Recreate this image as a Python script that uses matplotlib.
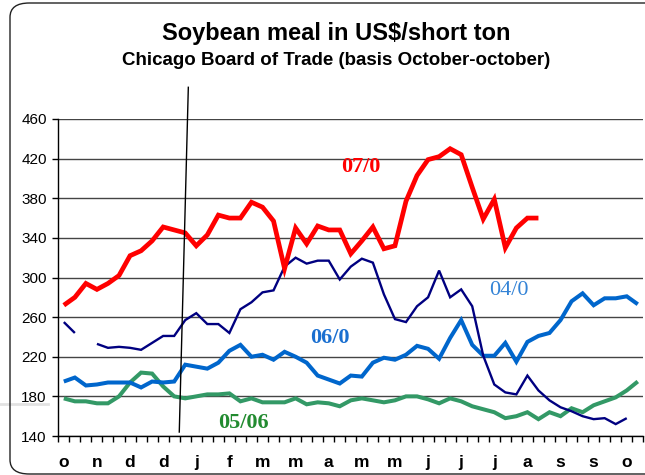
import numpy as np
import matplotlib.pyplot as plt
from matplotlib.patches import FancyBboxPatch
from matplotlib.lines import Line2D

# weekly prices, October to October (53 weeks)
red_0708 = [272, 280, 294, 288, 294, 302, 322, 327, 337, 351, 348, 345, 332, 343,
            363, 360, 360, 376, 371, 357, 309, 350, 334, 352, 348, 348, 324, 337,
            351, 329, 332, 377, 403, 419, 422, 430, 424, 391, 359, 379, 330, 350,
            360, 360] + [None] * 9
navy_line = [255, 244, None, 233, 229, 230, 229, 227, 234, 241, 241, 257, 264, 253,
             253, 244, 268, 275, 285, 287, 311, 320, 314, 317, 317, 298, 311, 319,
             315, 283, 258, 255, 271, 280, 307, 280, 288, 271, 221, 192, 184, 182,
             201, 186, 176, 169, 165, 160, 157, 158, 152, 158, None]
blue_line = [195, 199, 191, 192, 194, 194, 194, 189, 195, 194, 195, 212, 210, 208,
             214, 226, 232, 220, 222, 217, 225, 220, 214, 201, 197, 193, 201, 200,
             214, 219, 217, 222, 231, 228, 218, 239, 257, 232, 221, 221, 234, 215,
             235, 241, 244, 257, 276, 284, 272, 279, 279, 281, 273]
green_0506 = [178, 175, 175, 173, 173, 180, 194, 204, 203, 190, 180, 178, 180, 182,
              182, 183, 175, 178, 174, 174, 174, 178, 172, 174, 173, 170, 176, 178,
              176, 174, 176, 180, 180, 177, 173, 178, 175, 170, 167, 164, 158, 160,
              164, 157, 164, 160, 168, 164, 171, 175, 179, 186, 195]
month_labels = ['o', 'n', 'd', 'd', 'j', 'f', 'm', 'm', 'a', 'm', 'm', 'j', 'j', 'j',
                'a', 's', 's', 'o']

plt.rcParams['font.family'] = ['Liberation Sans', 'DejaVu Sans']

fig = plt.figure(figsize=(6.45, 4.75), dpi=100)

# chart frame with rounded corners
fig.patches.append(FancyBboxPatch((10 / 645, 1 - 474 / 475), 660 / 645, 471 / 475,
                                  boxstyle="round,pad=0,rounding_size=0.03",
                                  transform=fig.transFigure, fc='none', ec='#222222',
                                  lw=1.0, zorder=0))
fig.lines.append(Line2D([0, 48 / 645], [1 - 404 / 475] * 2, transform=fig.transFigure,
                        color='#e2e2e2', lw=2, zorder=-1))

ax = fig.add_axes([58.3 / 645, 1 - 436 / 475, 585 / 645, 317 / 475])

x = np.arange(len(blue_line))
series = [
    (green_0506, '#339966', 2.9),
    (blue_line, '#0066cc', 2.9),
    (navy_line, '#000080', 1.7),
    (red_0708, '#ff0000', 3.4),
]
for vals, col, lw in series:
    y = np.array([np.nan if v is None else v for v in vals], dtype=float)
    ax.plot(x, y, color=col, lw=lw, solid_joinstyle='miter', solid_capstyle='butt')

ax.set_xlim(-0.5, len(x) - 0.5)
ax.set_ylim(140, 460)
ax.set_yticks(range(140, 461, 40))
ax.yaxis.grid(True, color='#444444', lw=1)
ax.set_axisbelow(True)
ax.tick_params(axis='y', length=4.3, width=1, pad=4, labelsize=11)

ax.set_xticks(np.arange(-0.5, len(x), 1))
ax.set_xticklabels([])
ax.tick_params(axis='x', which='major', length=4, width=1, direction='out')
ax.set_xticks(np.arange(0, len(x), 3)[:len(month_labels)], month_labels, minor=True)
ax.tick_params(axis='x', which='minor', length=0, pad=14, labelsize=12.5)
for t in ax.get_xticklabels(minor=True):
    t.set_fontweight('bold')

for s in ['top', 'right']:
    ax.spines[s].set_visible(False)
for s in ['left', 'bottom']:
    ax.spines[s].set_color('black')
    ax.spines[s].set_linewidth(1)

# series labels
serif = ['Liberation Serif', 'DejaVu Serif']
ax.text(26.9, 407, '07/0', color='#ff0000', fontsize=16, fontweight='bold',
        family=serif, ha='center', va='baseline')
ax.text(24.1, 234, '06/0', color='#1a6fd0', fontsize=16, fontweight='bold',
        family=serif, ha='center', va='baseline')
ax.text(40.3, 282, '04/0', color='#3383d6', fontsize=16,
        family=serif, ha='center', va='baseline')
ax.text(16.3, 148, '05/06', color='#228b30', fontsize=16, fontweight='bold',
        family=serif, ha='center', va='baseline')

# hand-drawn divider line
ax.plot([11.28, 10.46], [492, 144], color='black', lw=1, clip_on=False)

fig.text(336 / 645, 1 - 40 / 475, 'Soybean meal in US$/short ton', ha='center',
         va='baseline', fontsize=17, fontweight='bold')
fig.text(336.5 / 645, 1 - 65 / 475, 'Chicago Board of Trade (basis October-october)',
         ha='center', va='baseline', fontsize=13.5, fontweight='bold')

fig.savefig('out.png', dpi=100)
